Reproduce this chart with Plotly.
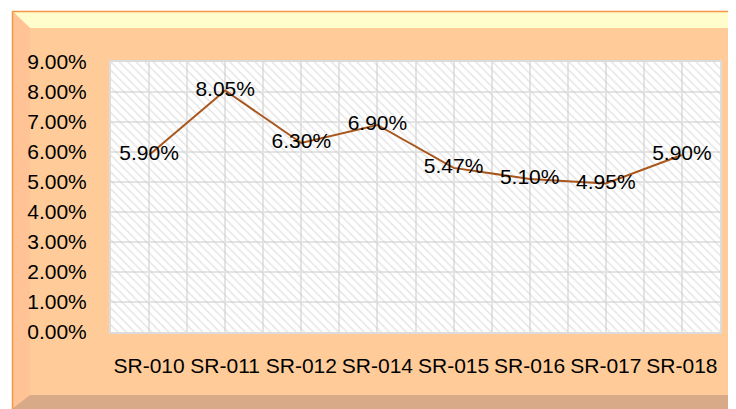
import plotly.graph_objects as go

categories = ["SR-010", "SR-011", "SR-012", "SR-014", "SR-015", "SR-016", "SR-017", "SR-018"]
rates = [0.0590, 0.0805, 0.0630, 0.0690, 0.0547, 0.0510, 0.0495, 0.0590]
y_ticks = [0.00, 0.01, 0.02, 0.03, 0.04, 0.05, 0.06, 0.07, 0.08, 0.09]

OFF = 8  # page body margin
W, H = 736 - OFF, 409 - OFF
L, R, T, B = 111 - OFF, 720 - OFF, 62 - OFF, 332 - OFF  # plot area in figure pixels

def px(x):
    return (x - OFF - L) / (R - L)

def py(y):
    return (B - (y - OFF)) / (B - T)

def path(points, close=True):
    s = "M " + " L ".join(f"{px(a):.5f},{py(b):.5f}" for a, b in points)
    return s + (" Z" if close else "")

xs = list(range(len(categories)))
xmin, xmax = -0.5, len(categories) - 0.5
ymin, ymax = y_ticks[0], y_ticks[-1]

fig = go.Figure()

# hatched plot background
fig.add_trace(go.Scatter(
    x=[xmin, xmax, xmax, xmin, xmin], y=[ymin, ymin, ymax, ymax, ymin],
    mode="lines", line=dict(width=0), fill="toself",
    fillcolor="rgba(0,0,0,0)",
    fillpattern=dict(shape="\\", fgcolor="#cccccc", bgcolor="rgba(0,0,0,0)",
                     size=6, solidity=0.25, fillmode="overlay"),
    hoverinfo="skip", showlegend=False,
))

fig.add_trace(go.Scatter(
    x=xs, y=rates, mode="lines+text",
    line=dict(color="#A9561C", width=2),
    text=[f"{v*100:.2f}%" for v in rates],
    textposition="middle center",
    textfont=dict(size=21, color="#000000"),
    showlegend=False,
))

shapes = []
shapes.append(dict(type="path", xref="paper", yref="paper", layer="below",
                   path=path([(12, 11), (736, 11), (736, 409), (12, 409)]),
                   fillcolor="#FFCC99", line=dict(width=0)))
shapes.append(dict(type="path", xref="paper", yref="paper", layer="below",
                   path=path([(12, 11), (736, 11), (733, 28), (30, 28)]),
                   fillcolor="#FFFDCC", line=dict(width=0)))
shapes.append(dict(type="path", xref="paper", yref="paper", layer="below",
                   path=path([(12, 11), (30, 28), (30, 395), (12, 409)]),
                   fillcolor="#FFC396", line=dict(width=0)))
shapes.append(dict(type="path", xref="paper", yref="paper", layer="below",
                   path=path([(12, 409), (30, 395), (733, 395), (736, 409)]),
                   fillcolor="#D8AA88", line=dict(width=0)))
shapes.append(dict(type="path", xref="paper", yref="paper", layer="below",
                   path=path([(736, 11), (733, 28), (733, 395), (736, 409)]),
                   fillcolor="#C99C7C", line=dict(width=0)))
shapes.append(dict(type="path", xref="paper", yref="paper", layer="below",
                   path=path([(12.5, 409), (12.5, 11.5), (736, 11.5)], close=False),
                   line=dict(color="#F79646", width=1.5)))
shapes.append(dict(type="rect", xref="paper", yref="paper", layer="below",
                   x0=0, x1=1, y0=0, y1=1, fillcolor="white", line=dict(width=0)))

grid = "#E4E4E4"
fig.update_layout(
    width=W, height=H,
    margin=dict(l=L, r=W - R, t=T, b=H - B, pad=0),
    paper_bgcolor="white",
    plot_bgcolor="rgba(0,0,0,0)",
    font=dict(family="Liberation Sans, Arial, sans-serif", size=21, color="#000000"),
    shapes=shapes,
    xaxis=dict(
        range=[xmin, xmax], tickmode="array", tickvals=xs, ticktext=categories,
        showgrid=True, gridcolor=grid, gridwidth=2,
        minor=dict(tickvals=[v + 0.5 for v in xs] + [xmin], showgrid=True,
                   gridcolor=grid, gridwidth=2),
        ticks="outside", ticklen=14, tickcolor="rgba(0,0,0,0)",
        showline=True, linecolor="#DCDCDC", linewidth=2, mirror=True,
        zeroline=False, fixedrange=True,
        tickfont=dict(size=21),
    ),
    yaxis=dict(
        range=[ymin, ymax], tickmode="array", tickvals=y_ticks, tickformat=".2%",
        showgrid=True, gridcolor=grid, gridwidth=2,
        ticks="outside", ticklen=18, tickcolor="rgba(0,0,0,0)",
        showline=True, linecolor="#DCDCDC", linewidth=2, mirror=True,
        zeroline=False, fixedrange=True,
        tickfont=dict(size=21),
    ),
)

fig.write_html("out.html")
